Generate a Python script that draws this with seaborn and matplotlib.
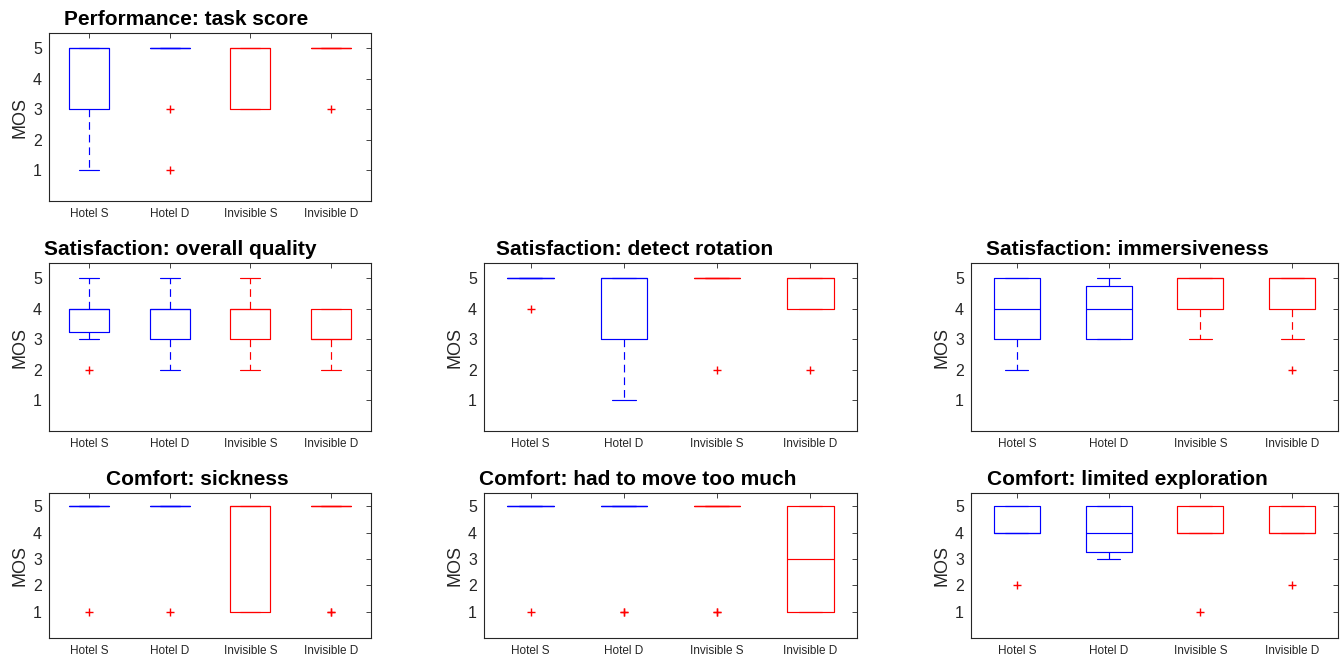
import matplotlib
matplotlib.use("Agg")
import matplotlib.pyplot as plt
import seaborn as sns
import pandas as pd

# ---------------- data ----------------
categories = ["Hotel S", "Hotel D", "Invisible S", "Invisible D"]

task_score = [
    [1, 3, 3, 3, 5, 5, 5, 5, 5, 5],
    [1, 3, 5, 5, 5, 5, 5, 5, 5, 5],
    [3, 3, 3, 3, 5, 5, 5, 5, 5, 5],
    [3, 5, 5, 5, 5, 5, 5, 5, 5, 5],
]
overall_quality = [
    [2, 3, 3, 4, 4, 4, 4, 4, 5, 5],
    [2, 3, 3, 3, 4, 4, 4, 4, 5, 5],
    [2, 3, 3, 3, 4, 4, 4, 4, 5, 5],
    [2, 3, 3, 3, 3, 3, 4, 4, 4, 4],
]
detect_rotation = [
    [4, 5, 5, 5, 5, 5, 5, 5, 5, 5],
    [1, 3, 3, 3, 5, 5, 5, 5, 5, 5],
    [2, 5, 5, 5, 5, 5, 5, 5, 5, 5],
    [2, 4, 4, 4, 5, 5, 5, 5, 5, 5],
]
immersiveness = [
    [2, 3, 3, 3, 4, 4, 5, 5, 5, 5],
    [3, 3, 3, 3, 4, 4, 4, 5, 5, 5],
    [3, 4, 4, 4, 5, 5, 5, 5, 5, 5],
    [2, 3, 4, 4, 5, 5, 5, 5, 5, 5],
]
sickness = [
    [1, 5, 5, 5, 5, 5, 5, 5, 5, 5],
    [1, 5, 5, 5, 5, 5, 5, 5, 5, 5],
    [1, 1, 1, 1, 5, 5, 5, 5, 5, 5],
    [1, 1, 5, 5, 5, 5, 5, 5, 5, 5],
]
move_too_much = [
    [1, 5, 5, 5, 5, 5, 5, 5, 5, 5],
    [1, 1, 5, 5, 5, 5, 5, 5, 5, 5],
    [1, 1, 5, 5, 5, 5, 5, 5, 5, 5],
    [1, 1, 1, 1, 3, 3, 5, 5, 5, 5],
]
limited_exploration = [
    [2, 4, 4, 4, 4, 4, 5, 5, 5, 5],
    [3, 3, 3, 4, 4, 4, 5, 5, 5, 5],
    [1, 4, 4, 4, 4, 4, 5, 5, 5, 5],
    [2, 4, 4, 4, 4, 4, 5, 5, 5, 5],
]

titles = [
    "Performance: task score",
    "Satisfaction: overall quality",
    "Satisfaction: detect rotation",
    "Satisfaction: immersiveness",
    "Comfort: sickness",
    "Comfort: had to move too much",
    "Comfort: limited exploration",
]
panel_data = [task_score, overall_quality, detect_rotation, immersiveness,
              sickness, move_too_much, limited_exploration]
y_ticks = [1, 2, 3, 4, 5]
palette = {"Hotel S": "#0000ff", "Hotel D": "#0000ff",
           "Invisible S": "#ff0000", "Invisible D": "#ff0000"}

# ---------------- layout (pixels) ----------------
W, H = 1343, 660
# (left, top, right, bottom, title_left_fraction)
boxes = [
    (49, 33, 371, 201, 0.047),
    (49, 263, 371, 431, -0.016),
    (484, 263, 857, 431, 0.031),
    (971, 263, 1338, 431, 0.041),
    (49, 493, 371, 638, 0.177),
    (484, 493, 857, 638, -0.013),
    (971, 493, 1338, 638, 0.043),
]

sns.set_theme(style="white")
plt.rcParams["font.family"] = ["Liberation Sans", "DejaVu Sans"]

fig = plt.figure(figsize=(W / 100, H / 100), dpi=100)
axis_col = "#262626"

for title, pdata, (l, t, r, b, tx) in zip(titles, panel_data, boxes):
    ax = fig.add_axes([l / W, 1 - b / H, (r - l) / W, (b - t) / H])
    rows = []
    for cat, vals in zip(categories, pdata):
        for v in vals:
            rows.append({"cond": cat, "score": v})
    df = pd.DataFrame(rows)
    sns.boxplot(data=df, x="cond", y="score", hue="cond", order=categories,
                hue_order=categories, palette=palette, fill=False, width=0.5,
                linewidth=0.85, whis=1.5, legend=False, ax=ax,
                whiskerprops={"linestyle": (0, (6.5, 4.2))},
                flierprops={"marker": "+", "markeredgecolor": "#ff0000",
                            "markersize": 6, "markeredgewidth": 1.0})
    ax.set_xlim(-0.5, 3.5)
    ax.set_ylim(0, 5.5)
    ax.set_yticks(y_ticks)
    ax.set_yticklabels([str(v) for v in y_ticks], fontsize=11.5, color=axis_col)
    ax.set_xticks(range(len(categories)))
    ax.set_xticklabels(categories, fontsize=8.5, color=axis_col)
    ax.set_xlabel("")
    ax.set_ylabel("MOS", fontsize=13, color=axis_col, labelpad=3)
    ax.tick_params(direction="in", top=True, right=True, length=3.5,
                   width=0.6, color=axis_col)
    ax.tick_params(axis="y", pad=5)
    ax.tick_params(axis="x", pad=5)
    for sp in ax.spines.values():
        sp.set_visible(True)
        sp.set_color(axis_col)
        sp.set_linewidth(0.8)
    tt = ax.set_title(title, fontsize=15, fontweight="bold", loc="left",
                      pad=6, color="black")
    tt.set_x(tx)

fig.savefig("out.png", dpi=100)
